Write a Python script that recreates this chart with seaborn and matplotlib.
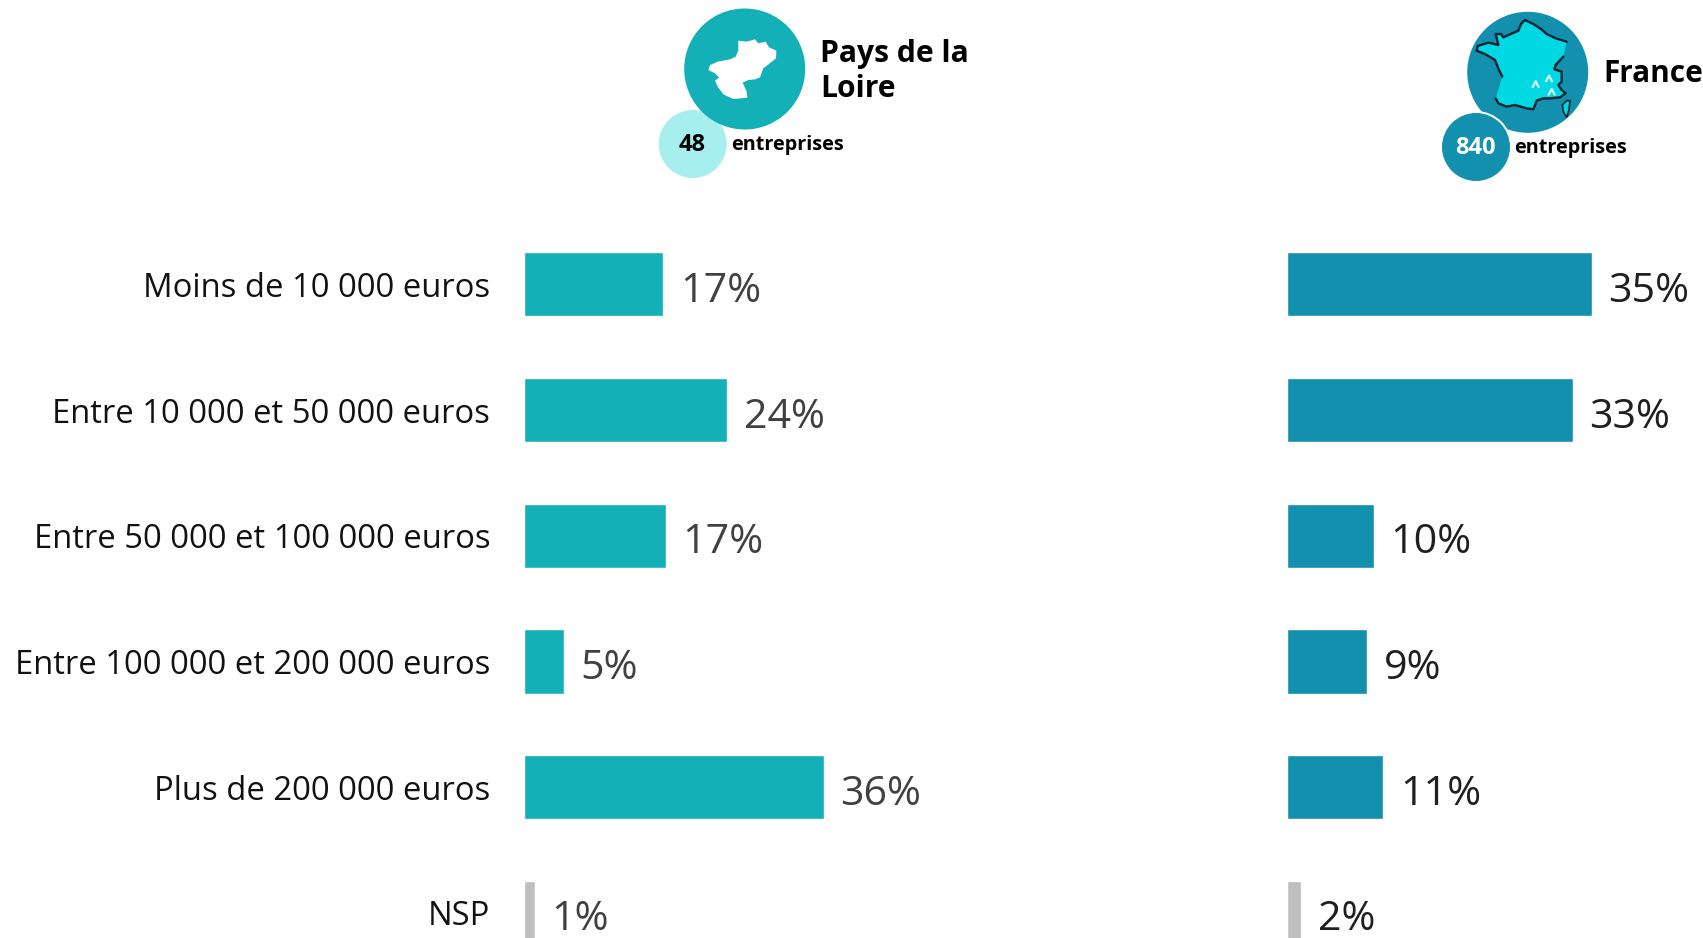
import seaborn as sns
from matplotlib import pyplot as plt
from matplotlib.patches import Circle, Polygon
import pandas as pd

categories = ['Moins de 10 000 euros', 'Entre 10 000 et 50 000 euros', 'Entre 50 000 et 100 000 euros',
              'Entre 100 000 et 200 000 euros', 'Plus de 200 000 euros', 'NSP']
pdl_values = [16.7, 24.4, 17.0, 4.8, 36.0, 1.3]
pdl_labels = ['17%', '24%', '17%', '5%', '36%', '1%']
fr_values = [35.1, 32.9, 10.0, 9.2, 11.1, 1.6]
fr_labels = ['35%', '33%', '10%', '9%', '11%', '2%']

TEAL = '#13B0B8'
BLUE = '#1490AF'
GREY = '#BFBFBF'
W, H = 1703, 938

sns.set_theme(style='white')
plt.rcParams['font.family'] = ['Open Sans', 'DejaVu Sans']

fig = plt.figure(figsize=(W / 100, H / 100), dpi=100)


def draw_bars(left, right, xmax, values, labels, color, text_color, show_names):
    ax = fig.add_axes([left / W, 0, (right - left) / W, (H - 221.5) / H])
    df = pd.DataFrame({'cat': categories, 'val': values})
    pal = {c: color for c in categories}
    pal['NSP'] = GREY
    sns.barplot(data=df, x='val', y='cat', hue='cat', palette=pal, legend=False,
                width=0.51, saturation=1, ax=ax)
    ax.set_xlim(0, xmax)
    ax.set_ylim(5.2, -0.5)
    ax.set_xlabel('')
    ax.set_ylabel('')
    ax.set_xticks([])
    sns.despine(ax=ax, left=True, bottom=True)
    if show_names:
        ax.tick_params(axis='y', length=0, pad=24.3, labelsize=23.6, labelcolor='#111111')
    else:
        ax.set_yticks([])
    for i, lab in enumerate(labels):
        ax.annotate(lab, xy=(values[i], i), xytext=(12, -5.3), textcoords='offset points',
                    fontsize=29.6, color=text_color, va='center', annotation_clip=False)
    return ax


draw_bars(524, 1000, 476 / 8.33, pdl_values, pdl_labels, TEAL, '#404040', True)
draw_bars(1287, 1703, 416 / 8.68, fr_values, fr_labels, BLUE, '#1F1F1F', False)

# header drawn in pixel coordinates
top = fig.add_axes([0, 0, 1, 1])
top.set_xlim(0, W)
top.set_ylim(H, 0)
top.axis('off')
top.patch.set_alpha(0)

top.add_patch(Circle((692.7, 144), 34, color='#A6EFEE', lw=0))
top.add_patch(Circle((744.7, 69), 60.5, color=TEAL, lw=0))
pdl_shape = [(130, 32), (155, 35), (180, 28), (190, 40), (212, 35), (222, 52), (244, 62), (243, 85), (218, 105),
             (205, 115), (195, 142), (180, 148), (160, 150), (143, 158), (155, 185), (157, 203), (115, 207),
             (85, 193), (68, 170), (60, 152), (72, 143), (60, 130), (40, 120), (45, 105), (68, 95), (105, 88),
             (122, 80), (130, 62)]
top.add_patch(Polygon([(695 + x / 3, 30 + y / 3) for x, y in pdl_shape], color='white', lw=0))

top.add_patch(Circle((1527.7, 72.3), 60.5, color=BLUE, lw=0))
top.add_patch(Circle((1476, 147), 36, color='white', lw=0))
top.add_patch(Circle((1476, 147), 34, color=BLUE, lw=0))


def fr_pts(pts):
    return [(1465 + x / 3, 10 + y / 3) for x, y in pts]


fr_west = [(112, 200), (102, 180), (90, 150), (60, 132), (35, 122), (38, 108), (70, 98), (100, 105), (92, 72),
           (108, 72), (115, 82), (160, 62), (168, 42), (180, 30), (205, 42), (232, 60), (245, 72), (272, 85),
           (305, 95)]
fr_south = [(295, 140), (272, 165), (268, 178), (290, 185), (290, 215), (280, 225), (290, 240), (302, 250),
            (285, 262), (255, 265), (235, 265), (215, 272), (205, 298), (185, 295), (150, 285), (125, 290),
            (100, 280), (92, 265)]
corsica = [(305, 272), (315, 272), (312, 300), (305, 322), (295, 305), (292, 285)]
top.add_patch(Polygon(fr_pts(fr_west + fr_south), facecolor='#00D8E4', lw=0))
for part in (fr_west, fr_south):
    xs, ys = zip(*fr_pts(part))
    top.plot(xs, ys, color='#0B2530', lw=1.7)
top.add_patch(Polygon(fr_pts(corsica), facecolor='#00D8E4', edgecolor='#0B2530', lw=1.2))
for cx, cy in [(212, 222), (252, 205), (260, 245)]:
    xs, ys = zip(*fr_pts([(cx - 9, cy + 9), (cx, cy - 8), (cx + 9, cy + 9)]))
    top.plot(xs, ys, color='#D8FBFB', lw=1.6)

top.text(820.5, 62, 'Pays de la', fontsize=21.6, fontweight='bold', color='black', va='baseline')
top.text(820.5, 97, 'Loire', fontsize=21.6, fontweight='bold', color='black', va='baseline')
top.text(1603, 81.7, 'France', fontsize=21.4, fontweight='bold', color='black', va='baseline')
top.text(692.2, 145, '48', fontsize=17, fontweight='bold', color='black', ha='center', va='center')
top.text(1475, 148, '840', fontsize=17, fontweight='bold', color='white', ha='center', va='center')
top.text(731, 150, 'entreprises', fontsize=14.3, fontweight='bold', color='black', va='baseline')
top.text(1514.5, 152.7, 'entreprises', fontsize=14.3, fontweight='bold', color='black', va='baseline')

fig.savefig('out.png', dpi=100)
